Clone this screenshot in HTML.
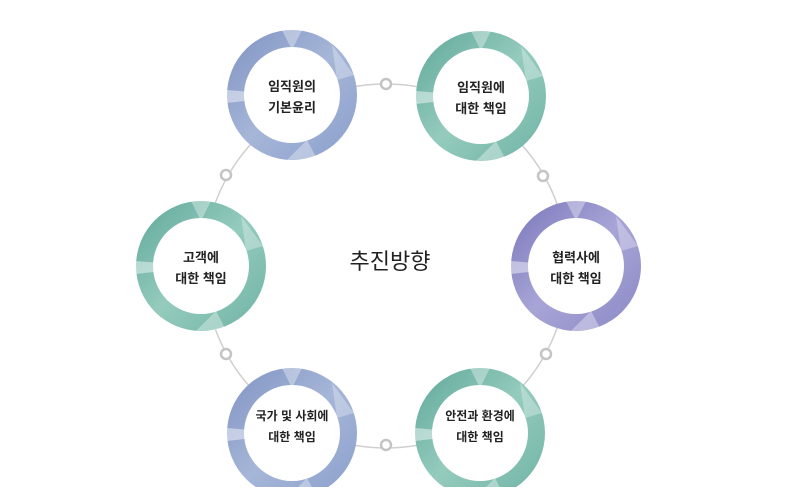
<!DOCTYPE html>
<html><head><meta charset="utf-8"><style>
body{margin:0;background:#fff;}
svg text{font-family:"Liberation Sans","Noto Sans CJK KR",sans-serif;fill:#222;text-anchor:middle;}
</style></head><body>
<svg width="800" height="487" viewBox="0 0 800 487" xmlns="http://www.w3.org/2000/svg">
<defs>
<linearGradient id="gb" x1="0" y1="0" x2="1" y2="1"><stop offset="0" stop-color="#7f93c2"/><stop offset="0.5" stop-color="#a6b6d8"/><stop offset="1" stop-color="#8a9fcc"/></linearGradient>
<linearGradient id="gt" x1="0" y1="0" x2="1" y2="1"><stop offset="0" stop-color="#5fa89a"/><stop offset="0.5" stop-color="#94cbbd"/><stop offset="1" stop-color="#6fb3a5"/></linearGradient>
<linearGradient id="gp" x1="0" y1="0" x2="1" y2="1"><stop offset="0" stop-color="#7a76bb"/><stop offset="0.5" stop-color="#a7a5d6"/><stop offset="1" stop-color="#8b88c6"/></linearGradient>
<g id="hl"><path d="M-65,-5 L-30,-2 L-30,4 L-65,8 Z" fill="#fff" opacity="0.45"/><path d="M-10,-65 L10,-65 L0,-45 Z" fill="#fff" opacity="0.35"/><path d="M40,-50 L62,-20 L45,-15 Z" fill="#fff" opacity="0.3"/><path d="M-5,65 L15,45 L25,64 Z" fill="#fff" opacity="0.35"/></g>
</defs>
<circle cx="386" cy="266" r="182" fill="none" stroke="#cfcfcf" stroke-width="1.5"/>
<g fill="#fff" stroke="#c4c4c4" stroke-width="2.5">
<circle cx="386" cy="84" r="5"/><circle cx="543" cy="176" r="5"/><circle cx="546" cy="354" r="5"/><circle cx="386" cy="445" r="5"/><circle cx="226" cy="354" r="5"/><circle cx="226" cy="175" r="5"/>
</g>
<g>
<circle cx="292" cy="95" r="65" fill="url(#gb)"/><use href="#hl" x="292" y="95"/><circle cx="292" cy="95" r="48" fill="#fff"/>
<circle cx="481" cy="96" r="65" fill="url(#gt)"/><use href="#hl" x="481" y="96"/><circle cx="481" cy="96" r="48" fill="#fff"/>
<circle cx="576" cy="266" r="65" fill="url(#gp)"/><use href="#hl" x="576" y="266"/><circle cx="576" cy="266" r="48" fill="#fff"/>
<circle cx="480" cy="433" r="65" fill="url(#gt)"/><use href="#hl" x="480" y="433"/><circle cx="480" cy="433" r="48" fill="#fff"/>
<circle cx="292" cy="433" r="65" fill="url(#gb)"/><use href="#hl" x="292" y="433"/><circle cx="292" cy="433" r="48" fill="#fff"/>
<circle cx="201" cy="266" r="65" fill="url(#gt)"/><use href="#hl" x="201" y="266"/><circle cx="201" cy="266" r="48" fill="#fff"/>
</g>
<g font-size="13" font-weight="bold">
<text x="292" y="91">임직원의</text><text x="292" y="112">기본윤리</text>
<text x="481" y="92">임직원에</text><text x="481" y="113">대한 책임</text>
<text x="576" y="262">협력사에</text><text x="576" y="283">대한 책임</text>
<text x="201" y="262">고객에</text><text x="201" y="283">대한 책임</text>
<text x="480" y="420" font-size="12">안전과 환경에</text><text x="480" y="441" font-size="12">대한 책임</text>
<text x="292" y="420" font-size="12">국가 및 사회에</text><text x="292" y="441" font-size="12">대한 책임</text>
</g>
<text x="390" y="269" font-size="22">추진방향</text>
</svg>
</body></html>
